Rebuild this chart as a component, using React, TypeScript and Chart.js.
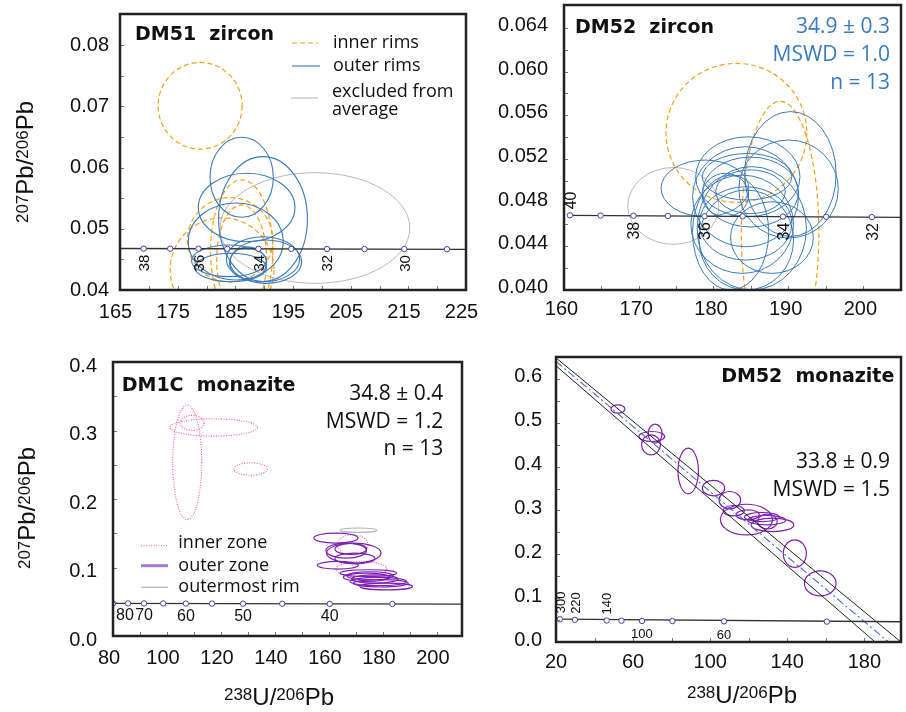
import React, { useEffect, useRef } from 'react';
import { Chart, registerables } from 'chart.js';
Chart.register(...registerables);

type Ell = number[]; // [cx, cy, rx, ry] in data units

// ================= Panel A : DM51 zircon =================
const A_X_TICKS = [165, 175, 185, 195, 205, 215, 225];
const A_X_MINOR = [170, 180, 190, 200, 210, 220];
const A_Y_TICKS = [0.04, 0.05, 0.06, 0.07, 0.08];
const A_Y_MINOR = [0.045, 0.055, 0.065, 0.075];
const A_CONC_X = [169.1, 173.7, 178.6, 183.6, 189.0, 194.7, 200.9, 207.4, 214.3, 221.7];
const A_CONC_Y = [0.04676, 0.04675, 0.04675, 0.04674, 0.04673, 0.04672, 0.04671, 0.04669, 0.04668, 0.04667];
const A_CONC_LABELS = ['38', '', '36', '', '34', '', '32', '', '30', ''];
const A_CONC_LINE_X = [165, 225];
const A_CONC_LINE_Y = [0.04678, 0.04665];
const A_INNER: Ell[] = [
  [178.9, 0.0701, 7.28, 0.00708],
  [186.1, 0.0464, 5.4, 0.0116],
  [186.1, 0.0449, 4.33, 0.009],
  [184.1, 0.0482, 7.4, 0.0069],
  [182.7, 0.0433, 9.0, 0.0085],
];
const A_OUTER: Ell[] = [
  [186.1, 0.05842, 5.49, 0.00654],
  [189.8, 0.0516, 7.7, 0.0102],
  [186.96, 0.05348, 8.38, 0.00559],
  [185.07, 0.04793, 8.23, 0.00629],
  [183.9, 0.04477, 6.5, 0.00258],
  [184.2, 0.04368, 6.2, 0.00232],
  [189.8, 0.04503, 6.35, 0.00368],
  [190.3, 0.04463, 6.2, 0.00354],
  [187.2, 0.0444, 3.2, 0.0026],
];
const A_EXCLUDED: Ell[] = [[198.8, 0.05013, 16.46, 0.00904]];

// ================= Panel B : DM52 zircon =================
const B_X_TICKS = [160, 170, 180, 190, 200];
const B_X_MINOR = [165, 175, 185, 195];
const B_Y_TICKS = [0.04, 0.044, 0.048, 0.052, 0.056, 0.06, 0.064];
const B_Y_MINOR = [0.042, 0.046, 0.05, 0.054, 0.058, 0.062];
const B_CONC_X = [160.8, 164.9, 169.3, 173.9, 178.8, 183.9, 189.3, 195.1, 201.2];
const B_CONC_Y = [0.04684, 0.04682, 0.0468, 0.04678, 0.04676, 0.04674, 0.04672, 0.0467, 0.04668];
const B_CONC_LABELS = ['40', '', '38', '', '36', '', '34', '', '32'];
const B_CONC_LINE_X = [160.8, 205.1];
const B_CONC_LINE_Y = [0.04684, 0.04666];
const B_INNER: Ell[] = [
  [183.07, 0.05439, 9.42, 0.00636],
  [188.92, 0.04522, 5.19, 0.01205],
];
const B_OUTER: Ell[] = [
  [178.86, 0.04931, 5.87, 0.00259],
  [190.3, 0.05062, 6.12, 0.00572],
  [190.05, 0.04925, 6.65, 0.00449],
  [184.6, 0.05037, 6.98, 0.00366],
  [184.3, 0.04854, 7.09, 0.00458],
  [183.85, 0.04602, 6.87, 0.0045],
  [182.3, 0.04526, 5.1, 0.00526],
  [181.6, 0.0487, 3.1, 0.00199],
  [187.83, 0.0448, 5.54, 0.00328],
  [184.96, 0.04897, 6.42, 0.0032],
  [184.3, 0.0461, 6.2, 0.00336],
  [184.5, 0.05037, 5.98, 0.00213],
  [184.96, 0.049, 4.65, 0.002],
  [184.4, 0.04458, 6.32, 0.00458],
  [185.13, 0.04565, 7.31, 0.00565],
];
const B_EXCLUDED: Ell[] = [[174.63, 0.0477, 6.1, 0.00352]];

// ================= Panel C : DM1C monazite =================
const C_X_TICKS = [80, 100, 120, 140, 160, 180, 200];
const C_X_MINOR = [90, 110, 130, 150, 170, 190];
const C_Y_TICKS = [0, 0.1, 0.2, 0.3, 0.4];
const C_Y_MINOR = [0.05, 0.15, 0.25, 0.35];
const C_CONC_X = [80.0, 85.6, 91.5, 98.6, 107.0, 116.7, 128.2, 142.7, 160.3, 183.5];
const C_CONC_Y = [0.0476, 0.0476, 0.0475, 0.0475, 0.0474, 0.0473, 0.0472, 0.0471, 0.0469, 0.0468];
const C_CONC_LABELS = ['80', '', '70', '', '60', '', '50', '', '40', ''];
const C_CONC_LINE_X = [80, 209.3];
const C_CONC_LINE_Y = [0.0476, 0.0466];
const C_INNER: Ell[] = [
  [107.5, 0.2536, 5.37, 0.0837],
  [117.3, 0.3045, 16.2, 0.0127],
  [109.3, 0.3111, 4.4, 0.011],
  [131.0, 0.2438, 6.2, 0.0091],
  [168.8, 0.1332, 5.74, 0.0146],
  [172.0, 0.0978, 9.4, 0.011],
];
const C_OUTER: Ell[] = [
  [162.6, 0.143, 8.2, 0.0073],
  [166.4, 0.1247, 7.5, 0.011],
  [169.2, 0.1211, 10.1, 0.0146],
  [168.1, 0.1271, 5.86, 0.008],
  [169.6, 0.1132, 7.4, 0.0078],
  [163.3, 0.1032, 7.6, 0.0056],
  [174.6, 0.0918, 10.5, 0.0049],
  [173.9, 0.0857, 8.6, 0.0061],
  [178.3, 0.0795, 10.5, 0.0061],
  [179.2, 0.0769, 10.2, 0.0054],
  [181.2, 0.0722, 9.75, 0.0049],
  [177.0, 0.0832, 8.6, 0.006],
  [175.2, 0.0878, 8.6, 0.006],
];
const C_RIM: Ell[] = [[170.9, 0.1545, 6.8, 0.0032]];

// ================= Panel D : DM52 monazite =================
const D_X_TICKS = [20, 60, 100, 140, 180];
const D_X_MINOR = [40, 80, 120, 160];
const D_Y_TICKS = [0, 0.1, 0.2, 0.3, 0.4, 0.5, 0.6];
const D_Y_MINOR = [0.05, 0.15, 0.25, 0.35, 0.45, 0.55];
const D_CONC_X = [22.0, 29.8, 46.3, 54.0, 64.6, 80.4, 107.2, 160.5];
const D_CONC_Y = [0.052, 0.0505, 0.049, 0.0485, 0.048, 0.0478, 0.0472, 0.0465];
const D_CONC_LABELS = ['300', '220', '140', '', '100', '', '60', ''];
const D_CONC_LINE_X = [22.0, 199];
const D_CONC_LINE_Y = [0.052, 0.0462];
const D_ELLS: Ell[] = [
  [52.15, 0.5315, 3.6, 0.0095],
  [71.4, 0.4753, 3.6, 0.0217],
  [69.7, 0.4687, 6.7, 0.0114],
  [69.3, 0.4498, 4.9, 0.0228],
  [88.6, 0.39, 5.3, 0.052],
  [101.7, 0.3509, 5.8, 0.0175],
  [110.2, 0.3235, 5.6, 0.0198],
  [118.8, 0.2792, 13.5, 0.035],
  [112.2, 0.2995, 5.5, 0.0118],
  [119.5, 0.29, 6.0, 0.0114],
  [126.8, 0.285, 9.0, 0.0103],
  [129.3, 0.2778, 9.8, 0.0107],
  [132.3, 0.2671, 11.1, 0.0152],
  [129.7, 0.2747, 5.1, 0.017],
  [143.9, 0.2016, 6.0, 0.0312],
  [157.1, 0.1336, 8.2, 0.0285],
];
const D_FIT_X = [20, 192.5];
const D_FIT_Y = [0.64, 0];
const D_ENV_UP_X = [20, 199];
const D_ENV_UP_Y = [0.648, 0];
const D_ENV_LO_X = [20, 185.6];
const D_ENV_LO_Y = [0.63, 0];

// ================= texts =================
const T_A_TITLE = 'DM51  zircon';
const T_A_LEG = ['inner rims', 'outer rims', 'excluded from', 'average'];
const T_B_TITLE = 'DM52  zircon';
const T_B_STATS = ['34.9 ± 0.3', 'MSWD = 1.0', 'n = 13'];
const T_C_TITLE = 'DM1C  monazite';
const T_C_STATS = ['34.8 ± 0.4', 'MSWD = 1.2', 'n = 13'];
const T_C_LEG = ['inner zone', 'outer zone', 'outermost rim'];
const T_D_TITLE = 'DM52  monazite';
const T_D_STATS = ['33.8 ± 0.9', 'MSWD = 1.5'];

// ================= styles =================
const ORANGE = '#f5a01a';
const BLUE = '#3a7bbf';
const GREY = '#b8b8b8';
const PINK = '#ff4fa8';
const PURPLE = '#7e1fb5';
const TITLE_FONT = 'bold 19px "DejaVu Sans", sans-serif';
const LEG_FONT = '18px "Open Sans", sans-serif';
const STAT_FONT = '21px "Open Sans", sans-serif';
const SANS = '"Liberation Sans", Arial, sans-serif';

interface EllGroup { ells: Ell[]; color: string; width: number; dash: number[] }
interface TextItem { text: string; x: number; y: number; align: CanvasTextAlign; font: string; color: string }
interface LegendLine { x1: number; x2: number; y: number; color: string; width: number; dash: number[] }
interface LineSeries { xs: number[]; ys: number[]; color: string; width: number; dash: number[] }
interface PanelSpec {
  id: string; left: number; top: number; width: number; height: number;
  axisW: number; axisH: number; padTop: number; padRight: number;
  xMin: number; xMax: number; yMin: number; yMax: number;
  xTicks: number[]; yTicks: number[]; xMinor: number[]; yMinor: number[];
  yDecimals: number; xLabelOffset: number; yLabelOffset: number; xPad: number; yPad: number;
  concX: number[]; concY: number[]; concLineX: number[]; concLineY: number[];
  concLabels: string[]; labelModes: string[]; labelFont: number; hLabelDy: number;
  groups: EllGroup[]; lines: LineSeries[]; texts: TextItem[]; legend: LegendLine[];
}

const PANELS: PanelSpec[] = [
  {
    id: 'A', left: 0, top: 0, width: 490, height: 330, axisW: 120, axisH: 40, padTop: 14, padRight: 24,
    xMin: 165, xMax: 225, yMin: 0.04, yMax: 0.0851,
    xTicks: A_X_TICKS, yTicks: A_Y_TICKS, xMinor: A_X_MINOR, yMinor: A_Y_MINOR,
    yDecimals: 2, xLabelOffset: -4.5, yLabelOffset: 0, xPad: 10, yPad: 11,
    concX: A_CONC_X, concY: A_CONC_Y, concLineX: A_CONC_LINE_X, concLineY: A_CONC_LINE_Y,
    concLabels: A_CONC_LABELS, labelModes: A_CONC_LABELS.map(() => 'down'), labelFont: 15, hLabelDy: 0,
    groups: [
      { ells: A_EXCLUDED, color: GREY, width: 1, dash: [] },
      { ells: A_INNER, color: ORANGE, width: 1.2, dash: [5, 3] },
      { ells: A_OUTER, color: BLUE, width: 1.1, dash: [] },
    ],
    lines: [],
    texts: [
      { text: T_A_TITLE, x: 135, y: 40, align: 'left', font: TITLE_FONT, color: '#111' },
      { text: T_A_LEG[0], x: 333, y: 48.3, align: 'left', font: LEG_FONT, color: '#111' },
      { text: T_A_LEG[1], x: 333, y: 71, align: 'left', font: LEG_FONT, color: '#111' },
      { text: T_A_LEG[2], x: 332, y: 96.7, align: 'left', font: LEG_FONT, color: '#111' },
      { text: T_A_LEG[3], x: 332, y: 115, align: 'left', font: LEG_FONT, color: '#111' },
    ],
    legend: [
      { x1: 292, x2: 318, y: 43, color: ORANGE, width: 1.2, dash: [5, 3] },
      { x1: 292, x2: 320, y: 66, color: BLUE, width: 1.1, dash: [] },
      { x1: 291, x2: 318, y: 98, color: GREY, width: 1.1, dash: [] },
    ],
  },
  {
    id: 'B', left: 470, top: 0, width: 436, height: 330, axisW: 94, axisH: 40, padTop: 5, padRight: 3,
    xMin: 160, xMax: 205.1, yMin: 0.04, yMax: 0.0661,
    xTicks: B_X_TICKS, yTicks: B_Y_TICKS, xMinor: B_X_MINOR, yMinor: B_Y_MINOR,
    yDecimals: 3, xLabelOffset: -2.5, yLabelOffset: -2.5, xPad: 7, yPad: 16,
    concX: B_CONC_X, concY: B_CONC_Y, concLineX: B_CONC_LINE_X, concLineY: B_CONC_LINE_Y,
    concLabels: B_CONC_LABELS, labelModes: ['up', '', 'down', '', 'down', '', 'down', '', 'down'], labelFont: 16, hLabelDy: 0,
    groups: [
      { ells: B_EXCLUDED, color: GREY, width: 1, dash: [] },
      { ells: B_INNER, color: ORANGE, width: 1.2, dash: [5, 3] },
      { ells: B_OUTER, color: BLUE, width: 1.0, dash: [] },
    ],
    lines: [],
    texts: [
      { text: T_B_TITLE, x: 575, y: 33.3, align: 'left', font: TITLE_FONT, color: '#111' },
      { text: T_B_STATS[0], x: 890, y: 33.3, align: 'right', font: STAT_FONT, color: BLUE },
      { text: T_B_STATS[1], x: 890, y: 61, align: 'right', font: STAT_FONT, color: BLUE },
      { text: T_B_STATS[2], x: 890, y: 89.3, align: 'right', font: STAT_FONT, color: BLUE },
    ],
    legend: [],
  },
  {
    id: 'C', left: 0, top: 340, width: 490, height: 372, axisW: 113, axisH: 76, padTop: 22, padRight: 28,
    xMin: 80, xMax: 209.3, yMin: 0, yMax: 0.4,
    xTicks: C_X_TICKS, yTicks: C_Y_TICKS, xMinor: C_X_MINOR, yMinor: C_Y_MINOR,
    yDecimals: 1, xLabelOffset: -4, yLabelOffset: 4, xPad: 10, yPad: 16,
    concX: C_CONC_X, concY: C_CONC_Y, concLineX: C_CONC_LINE_X, concLineY: C_CONC_LINE_Y,
    concLabels: C_CONC_LABELS, labelModes: C_CONC_LABELS.map(() => 'below'), labelFont: 16, hLabelDy: 17,
    groups: [
      { ells: C_RIM, color: GREY, width: 1.2, dash: [] },
      { ells: C_INNER, color: PINK, width: 1.1, dash: [1, 1.5] },
      { ells: C_OUTER, color: PURPLE, width: 1.2, dash: [] },
    ],
    lines: [],
    texts: [
      { text: T_C_TITLE, x: 121.7, y: 390.7, align: 'left', font: TITLE_FONT, color: '#111' },
      { text: T_C_STATS[0], x: 443.3, y: 400, align: 'right', font: STAT_FONT, color: '#111' },
      { text: T_C_STATS[1], x: 443.3, y: 427.7, align: 'right', font: STAT_FONT, color: '#111' },
      { text: T_C_STATS[2], x: 443.3, y: 455, align: 'right', font: STAT_FONT, color: '#111' },
      { text: T_C_LEG[0], x: 178.3, y: 548.3, align: 'left', font: LEG_FONT, color: '#111' },
      { text: T_C_LEG[1], x: 178.3, y: 570.7, align: 'left', font: LEG_FONT, color: '#111' },
      { text: T_C_LEG[2], x: 178.3, y: 591.7, align: 'left', font: LEG_FONT, color: '#111' },
    ],
    legend: [
      { x1: 141, x2: 168, y: 545.7, color: PINK, width: 1.1, dash: [1, 1.5] },
      { x1: 141, x2: 168, y: 565.7, color: '#a67ad6', width: 3, dash: [] },
      { x1: 141, x2: 168, y: 587.3, color: GREY, width: 1.3, dash: [] },
    ],
  },
  {
    id: 'D', left: 470, top: 340, width: 436, height: 372, axisW: 86, axisH: 70, padTop: 17, padRight: 1,
    xMin: 20, xMax: 199, yMin: 0, yMax: 0.65,
    xTicks: D_X_TICKS, yTicks: D_Y_TICKS, xMinor: D_X_MINOR, yMinor: D_Y_MINOR,
    yDecimals: 1, xLabelOffset: 0, yLabelOffset: -2, xPad: 8.5, yPad: 14,
    concX: D_CONC_X, concY: D_CONC_Y, concLineX: D_CONC_LINE_X, concLineY: D_CONC_LINE_Y,
    concLabels: D_CONC_LABELS, labelModes: ['up', 'up', 'up', '', 'below', '', 'below', ''], labelFont: 13, hLabelDy: 17.5,
    groups: [{ ells: D_ELLS, color: PURPLE, width: 1.2, dash: [] }],
    lines: [
      { xs: D_FIT_X, ys: D_FIT_Y, color: '#4a6fd0', width: 1.1, dash: [8, 3, 2, 3] },
      { xs: D_ENV_UP_X, ys: D_ENV_UP_Y, color: '#222', width: 1, dash: [] },
      { xs: D_ENV_LO_X, ys: D_ENV_LO_Y, color: '#222', width: 1, dash: [] },
    ],
    texts: [
      { text: T_D_TITLE, x: 894.3, y: 381.7, align: 'right', font: TITLE_FONT, color: '#111' },
      { text: T_D_STATS[0], x: 890, y: 468.3, align: 'right', font: STAT_FONT, color: '#111' },
      { text: T_D_STATS[1], x: 890, y: 496, align: 'right', font: STAT_FONT, color: '#111' },
    ],
    legend: [],
  },
];

function makeDecor(s: PanelSpec) {
  return {
    id: 'decor' + s.id,
    beforeDatasetsDraw(chart: any) {
      const { ctx, chartArea: a, scales } = chart;
      const xs = scales.x, ys = scales.y;
      ctx.save();
      ctx.beginPath();
      ctx.rect(a.left, a.top, a.right - a.left, a.bottom - a.top);
      ctx.clip();
      for (const g of s.groups) {
        ctx.strokeStyle = g.color;
        ctx.lineWidth = g.width;
        ctx.setLineDash(g.dash);
        for (const e of g.ells) {
          const px = xs.getPixelForValue(e[0]);
          const py = ys.getPixelForValue(e[1]);
          const rx = Math.abs(xs.getPixelForValue(e[0] + e[2]) - px);
          const ry = Math.abs(ys.getPixelForValue(e[1] + e[3]) - py);
          ctx.beginPath();
          ctx.ellipse(px, py, rx, ry, 0, 0, Math.PI * 2);
          ctx.stroke();
        }
      }
      ctx.restore();
    },
    afterDraw(chart: any) {
      const { ctx, chartArea: a, scales } = chart;
      const xs = scales.x, ys = scales.y;
      ctx.save();
      // inner tick marks
      ctx.strokeStyle = '#777';
      ctx.lineWidth = 1;
      ctx.setLineDash([]);
      for (const v of [...s.xTicks, ...s.xMinor]) {
        const px = Math.round(xs.getPixelForValue(v)) + 0.5;
        if (px <= a.left + 2 || px >= a.right - 2) continue;
        ctx.beginPath(); ctx.moveTo(px, a.bottom); ctx.lineTo(px, a.bottom - 4); ctx.stroke();
      }
      for (const v of [...s.yTicks, ...s.yMinor]) {
        const py = Math.round(ys.getPixelForValue(v)) + 0.5;
        if (py <= a.top + 2 || py >= a.bottom - 2) continue;
        ctx.beginPath(); ctx.moveTo(a.left, py); ctx.lineTo(a.left + 4, py); ctx.stroke();
      }
      // frame
      ctx.strokeStyle = '#222';
      ctx.lineWidth = 2.5;
      ctx.strokeRect(a.left, a.top, a.right - a.left, a.bottom - a.top);
      // concordia age labels
      ctx.fillStyle = '#111';
      ctx.font = `${s.labelFont}px ${SANS}`;
      const cap = s.labelFont * 0.716;
      s.concLabels.forEach((t, i) => {
        if (!t) return;
        const mode = s.labelModes[i];
        const px = xs.getPixelForValue(s.concX[i]);
        const py = ys.getPixelForValue(s.concY[i]);
        const w = ctx.measureText(t).width;
        if (mode === 'up' || mode === 'down') {
          const cy = mode === 'down' ? py + 6 + w / 2 : py - 6 - w / 2;
          ctx.save();
          ctx.translate(px, cy);
          ctx.rotate(-Math.PI / 2);
          ctx.textAlign = 'center';
          ctx.textBaseline = 'alphabetic';
          ctx.fillText(t, 0, cap / 2);
          ctx.restore();
        } else if (mode === 'below') {
          const lx = Math.max(px, a.left + 3 + w / 2);
          ctx.textAlign = 'center';
          ctx.textBaseline = 'alphabetic';
          ctx.fillText(t, lx, py + s.hLabelDy);
        }
      });
      // legend samples
      for (const l of s.legend) {
        ctx.strokeStyle = l.color;
        ctx.lineWidth = l.width;
        ctx.setLineDash(l.dash);
        ctx.beginPath();
        ctx.moveTo(l.x1 - s.left, l.y - s.top);
        ctx.lineTo(l.x2 - s.left, l.y - s.top);
        ctx.stroke();
      }
      ctx.setLineDash([]);
      // texts
      for (const t of s.texts) {
        ctx.font = t.font;
        ctx.fillStyle = t.color;
        ctx.textAlign = t.align;
        ctx.textBaseline = 'alphabetic';
        ctx.fillText(t.text, t.x - s.left, t.y - s.top);
      }
      ctx.restore();
    },
  };
}

function buildConfig(s: PanelSpec): any {
  const pts = (xa: number[], ya: number[]) => xa.map((x, i) => ({ x, y: ya[i] }));
  const datasets: any[] = [
    {
      data: pts(s.concX, s.concY), showLine: false, pointRadius: 2.7, pointBorderWidth: 1,
      pointBorderColor: '#43439e', pointBackgroundColor: '#ffffff',
    },
    {
      data: pts(s.concLineX, s.concLineY), showLine: true, borderColor: '#333', borderWidth: 1.3, pointRadius: 0,
    },
    ...s.lines.map((l) => ({
      data: pts(l.xs, l.ys), showLine: true, borderColor: l.color, borderWidth: l.width, borderDash: l.dash, pointRadius: 0,
    })),
  ];
  const tickFont = { family: SANS, size: 20 };
  const zeroPad = (sc: any) => { sc.paddingLeft = 0; sc.paddingRight = 0; sc.paddingTop = 0; sc.paddingBottom = 0; };
  return {
    type: 'scatter',
    data: { datasets },
    options: {
      responsive: false,
      animation: false,
      events: [],
      layout: { padding: { top: s.padTop, right: s.padRight, left: 0, bottom: 0 } },
      plugins: { legend: { display: false }, tooltip: { enabled: false } },
      scales: {
        x: {
          type: 'linear', min: s.xMin, max: s.xMax,
          grid: { display: false, drawTicks: false }, border: { display: false },
          ticks: {
            autoSkip: false, maxRotation: 0, minRotation: 0, padding: s.xPad, labelOffset: s.xLabelOffset,
            color: '#111', font: tickFont, callback: (v: any) => String(v),
          },
          afterBuildTicks: (sc: any) => { sc.ticks = s.xTicks.map((v) => ({ value: v })); },
          afterFit: (sc: any) => { sc.height = s.axisH; zeroPad(sc); },
        },
        y: {
          type: 'linear', min: s.yMin, max: s.yMax,
          grid: { display: false, drawTicks: false }, border: { display: false },
          ticks: {
            autoSkip: false, padding: s.yPad, labelOffset: s.yLabelOffset,
            color: '#111', font: tickFont, callback: (v: any) => Number(v).toFixed(s.yDecimals),
          },
          afterBuildTicks: (sc: any) => { sc.ticks = s.yTicks.map((v) => ({ value: v })); },
          afterFit: (sc: any) => { sc.width = s.axisW; zeroPad(sc); },
        },
      },
    },
    plugins: [makeDecor(s)],
  };
}

function PanelChart({ spec }: { spec: PanelSpec }) {
  const ref = useRef<HTMLCanvasElement | null>(null);
  useEffect(() => {
    if (!ref.current) return;
    const chart = new Chart(ref.current, buildConfig(spec));
    return () => chart.destroy();
  }, [spec]);
  return (
    <canvas
      ref={ref}
      width={spec.width}
      height={spec.height}
      style={{ position: 'absolute', left: spec.left, top: spec.top, width: spec.width, height: spec.height }}
    />
  );
}

const supStyle: React.CSSProperties = { fontSize: 17, position: 'relative', top: -5 };

function AxisTitle({ x, y, rotate, children }: { x: number; y: number; rotate?: boolean; children: React.ReactNode }) {
  return (
    <div
      style={{
        position: 'absolute', left: x, top: y,
        transform: `translate(-50%, -50%)${rotate ? ' rotate(-90deg)' : ''}`,
        fontFamily: SANS, fontSize: 24, lineHeight: 1, whiteSpace: 'nowrap', color: '#111',
      }}
    >
      {children}
    </div>
  );
}

const PbPb = () => (<><span style={supStyle}>207</span>Pb/<span style={supStyle}>206</span>Pb</>);
const UPb = () => (<><span style={supStyle}>238</span>U/<span style={supStyle}>206</span>Pb</>);

export default function App() {
  return (
    <div style={{ position: 'absolute', left: 0, top: 0, width: 906, height: 712, background: '#fff', overflow: 'hidden' }}>
      {PANELS.map((p) => <PanelChart key={p.id} spec={p} />)}
      <AxisTitle x={25} y={162} rotate><PbPb /></AxisTitle>
      <AxisTitle x={27} y={508} rotate><PbPb /></AxisTitle>
      <AxisTitle x={279} y={697}><UPb /></AxisTitle>
      <AxisTitle x={742} y={695}><UPb /></AxisTitle>
    </div>
  );
}
